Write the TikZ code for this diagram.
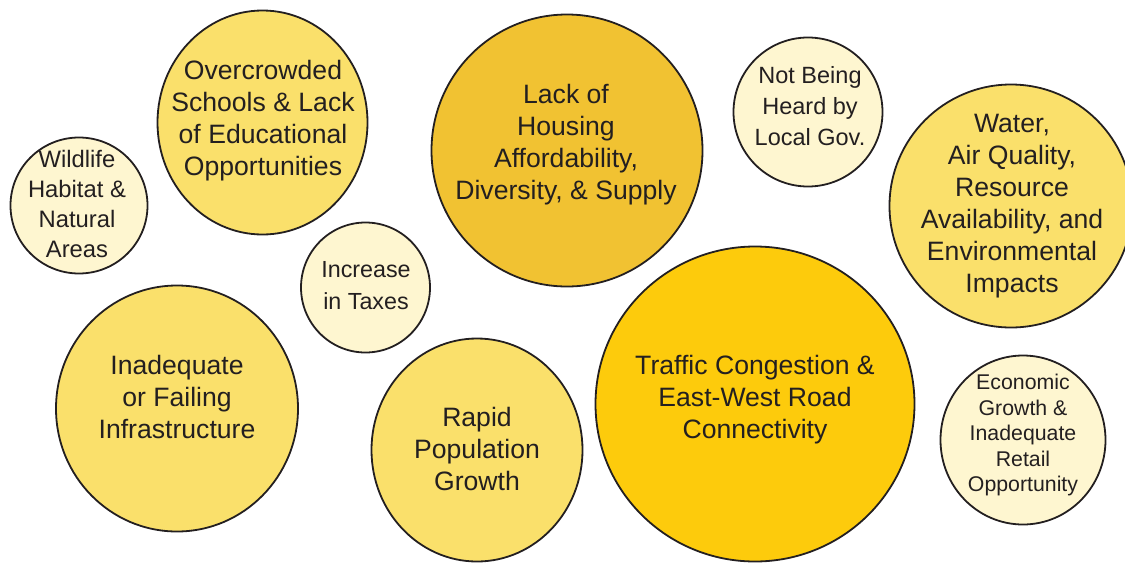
\documentclass[tikz,border=0pt]{standalone}
\usepackage{fontspec}
\setmainfont{Liberation Sans}
\usetikzlibrary{shapes.geometric}
\definecolor{cream}{HTML}{FEF6D0}
\definecolor{midyel}{HTML}{FAE06B}
\definecolor{housing}{HTML}{F1C232}
\definecolor{traffic}{HTML}{FDCB0C}
\definecolor{ink}{HTML}{231F20}
\tikzset{
  bub/.style={ellipse, draw=ink, line width=1.8pt, inner sep=0pt, outer sep=0pt},
  big/.style={align=center, text=ink, font=\fontsize{26.6}{32}\selectfont, inner sep=0pt},
  small/.style={align=center, text=ink, font=\fontsize{23.5}{31}\selectfont, inner sep=0pt},
}
\begin{document}
\begin{tikzpicture}[x=1pt,y=-1pt]
\useasboundingbox (0,0) rectangle (1125,563);
% bubbles
\node[bub, fill=midyel, minimum width=210pt, minimum height=224pt] (school) at (262.5,122.5) {};
\node[bub, fill=cream, minimum width=137pt, minimum height=136pt] (wild) at (79,205.5) {};
\node[bub, fill=housing, minimum width=271pt, minimum height=272pt] (house) at (567,150.5) {};
\node[bub, fill=cream, minimum width=149pt, minimum height=149pt] (gov) at (808,112) {};
\node[bub, fill=midyel, minimum width=243pt, minimum height=243pt] (water) at (1011,206) {};
\node[bub, fill=cream, minimum width=129pt, minimum height=130pt] (tax) at (365.5,287.5) {};
\node[bub, fill=midyel, minimum width=242pt, minimum height=246pt] (infra) at (177,408.5) {};
\node[bub, fill=midyel, minimum width=211pt, minimum height=223pt] (pop) at (477,450) {};
\node[bub, fill=traffic, minimum width=319pt, minimum height=315pt] (road) at (755,404) {};
\node[bub, fill=cream, minimum width=165pt, minimum height=169pt] (econ) at (1023,440) {};
% labels
\node[big] (tschool) at (263,121) {Overcrowded\\Schools \& Lack\\of Educational\\Opportunities};
\node[small, font=\fontsize{23.8}{29.7}\selectfont] (twild) at (77,204) {Wildlife\\Habitat \&\\Natural\\Areas};
\node[big] (thouse) at (566,145) {Lack of\\Housing\\Affordability,\\Diversity, \& Supply};
\node[small] (tgov) at (810,106) {Not Being\\Heard by\\Local Gov.};
\node[big] (twater) at (1012,206) {Water,\\Air Quality,\\Resource\\Availability, and\\Environmental\\Impacts};
\node[small, font=\fontsize{23.3}{32}\selectfont] (ttax) at (366,286) {Increase\\in Taxes};
\node[big] (tinfra) at (177,397) {Inadequate\\or Failing\\Infrastructure};
\node[big] (tpop) at (477,449) {Rapid\\Population\\Growth};
\node[big] (troad) at (755,400) {Traffic Congestion \&\\East-West Road\\Connectivity};
\node[small, font=\fontsize{21.3}{25.5}\selectfont] (tecon) at (1023,435) {Economic\\Growth \&\\Inadequate\\Retail\\Opportunity};
\end{tikzpicture}
\end{document}
